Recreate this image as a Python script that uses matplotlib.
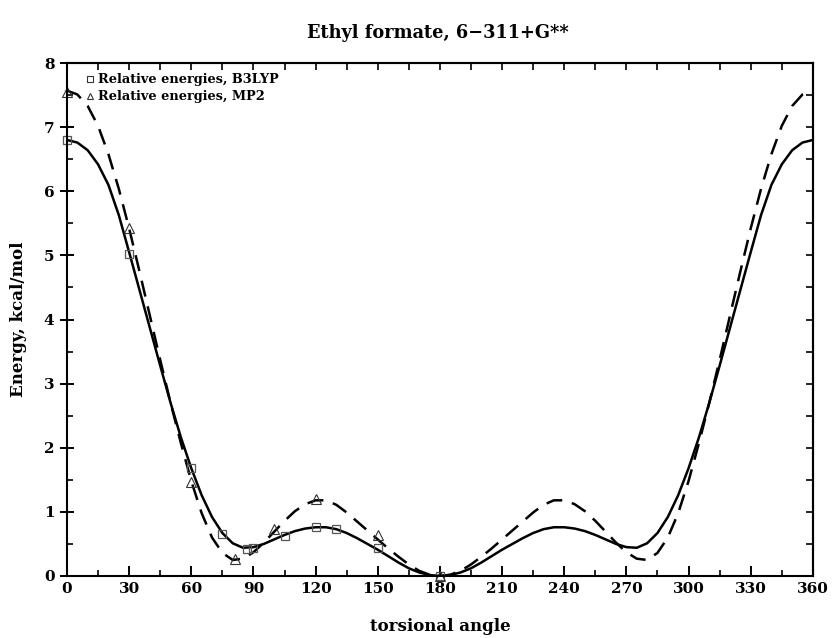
import matplotlib
matplotlib.use("Agg")
import matplotlib.pyplot as plt
from matplotlib.lines import Line2D

plt.rcParams['font.family'] = ['DejaVu Serif']
plt.rcParams['font.weight'] = 'bold'

# computed points (torsional angle, kcal/mol)
b3lyp_angle = [0, 30, 60, 75, 87, 90, 105, 120, 130, 150, 180]
b3lyp_energy = [6.80, 5.02, 1.69, 0.65, 0.42, 0.44, 0.62, 0.76, 0.74, 0.43, 0.0]
mp2_angle = [0, 30, 60, 81, 100, 120, 150, 180]
mp2_energy = [7.55, 5.42, 1.47, 0.26, 0.74, 1.20, 0.64, 0.0]

# fitted curves, read every 5 degrees
fit_angle = list(range(0, 365, 5))
b3lyp_fit = [6.80, 6.76, 6.64, 6.42, 6.10, 5.63, 5.05, 4.46, 3.87, 3.28, 2.70, 2.16,
             1.68, 1.26, 0.92, 0.67, 0.51, 0.44, 0.45, 0.50, 0.57, 0.64, 0.70, 0.74,
             0.76, 0.76, 0.73, 0.67, 0.59, 0.50, 0.41, 0.31, 0.21, 0.12, 0.055, 0.015,
             0.0,
             0.015, 0.055, 0.12, 0.21, 0.31, 0.41, 0.50, 0.59, 0.67, 0.73, 0.76, 0.76,
             0.74, 0.70, 0.64, 0.57, 0.50, 0.45, 0.44, 0.51, 0.67, 0.92, 1.26, 1.68,
             2.16, 2.70, 3.28, 3.87, 4.46, 5.05, 5.63, 6.10, 6.42, 6.64, 6.76, 6.80]
mp2_fit = [7.57, 7.51, 7.33, 7.02, 6.58, 6.04, 5.42, 4.75, 4.06, 3.37, 2.70, 2.07,
           1.48, 0.98, 0.60, 0.36, 0.25, 0.27, 0.37, 0.52, 0.69, 0.86, 1.01, 1.12,
           1.18, 1.18, 1.11, 0.99, 0.85, 0.71, 0.57, 0.43, 0.30, 0.18, 0.08, 0.02,
           0.0,
           0.02, 0.08, 0.18, 0.30, 0.43, 0.57, 0.71, 0.85, 0.99, 1.11, 1.18, 1.18,
           1.12, 1.01, 0.86, 0.69, 0.52, 0.37, 0.27, 0.25, 0.36, 0.60, 0.98, 1.48,
           2.07, 2.70, 3.37, 4.06, 4.75, 5.42, 6.04, 6.58, 7.02, 7.33, 7.51, 7.57]

xticks = list(range(0, 361, 30))
yticks = list(range(0, 9))

fig = plt.figure(figsize=(8.32, 6.38), dpi=100)
ax = fig.add_axes([0.0805, 0.0972, 0.8965, 0.804])

ax.plot(fit_angle, b3lyp_fit, color='black', lw=1.8)
ax.plot(fit_angle, mp2_fit, color='black', lw=1.8, linestyle=(0, (6.5, 4)))
ax.plot(b3lyp_angle, b3lyp_energy, linestyle='none', marker='s', ms=6,
        mfc='none', mec='#555555', mew=0.9, clip_on=False)
ax.plot(mp2_angle, mp2_energy, linestyle='none', marker='^', ms=6.5,
        mfc='none', mec='#333333', mew=0.8, clip_on=False)

ax.set_xlim(0, 360)
ax.set_ylim(0, 8)
ax.set_xticks(xticks)
ax.set_xticks(range(15, 360, 30), minor=True)
ax.set_yticks(yticks)
ax.set_yticks([v + 0.5 for v in range(8)], minor=True)

for s in ax.spines.values():
    s.set_linewidth(1.5)

ax.tick_params(axis='x', which='major', direction='in', length=7, width=1.4,
               labelsize=11, pad=4)
ax.tick_params(axis='x', which='minor', direction='in', length=4, width=1.2)
ax.tick_params(axis='y', which='major', direction='inout', length=10, width=1.4,
               labelsize=11, pad=4)
ax.tick_params(axis='y', which='minor', direction='in', length=4, width=1.2)

# ticks on top and right, pointing in, no labels
top = ax.secondary_xaxis('top')
top.set_xticks(range(0, 361, 15))
top.tick_params(direction='in', length=5, width=1.2, labeltop=False)
top.spines['top'].set_linewidth(1.5)
right = ax.secondary_yaxis('right')
right.set_yticks([v * 0.5 for v in range(17)])
right.tick_params(direction='in', length=5, width=1.2, labelright=False)
right.spines['right'].set_linewidth(1.5)

ax.set_xlabel('torsional angle', fontsize=12, fontweight='bold', labelpad=16)
ax.set_ylabel('Energy, kcal/mol', fontsize=12, fontweight='bold', labelpad=12)
fig.text(0.526, 0.948, 'Ethyl formate, 6\u2212311+G**', ha='center', va='center',
         fontsize=12.8, fontweight='bold')

handles = [
    Line2D([], [], linestyle='none', marker='s', ms=5, mfc='none', mec='#333333', mew=0.8),
    Line2D([], [], linestyle='none', marker='^', ms=5, mfc='none', mec='#333333', mew=0.8),
]
ax.legend(handles, ['Relative energies, B3LYP', 'Relative energies, MP2'],
          loc='upper left', bbox_to_anchor=(0.015, 0.995), frameon=False,
          handlelength=0.6, handletextpad=0.3, labelspacing=0.3,
          borderaxespad=0.2, prop={'weight': 'bold', 'size': 9.3})

fig.savefig('out.png', dpi=100)
